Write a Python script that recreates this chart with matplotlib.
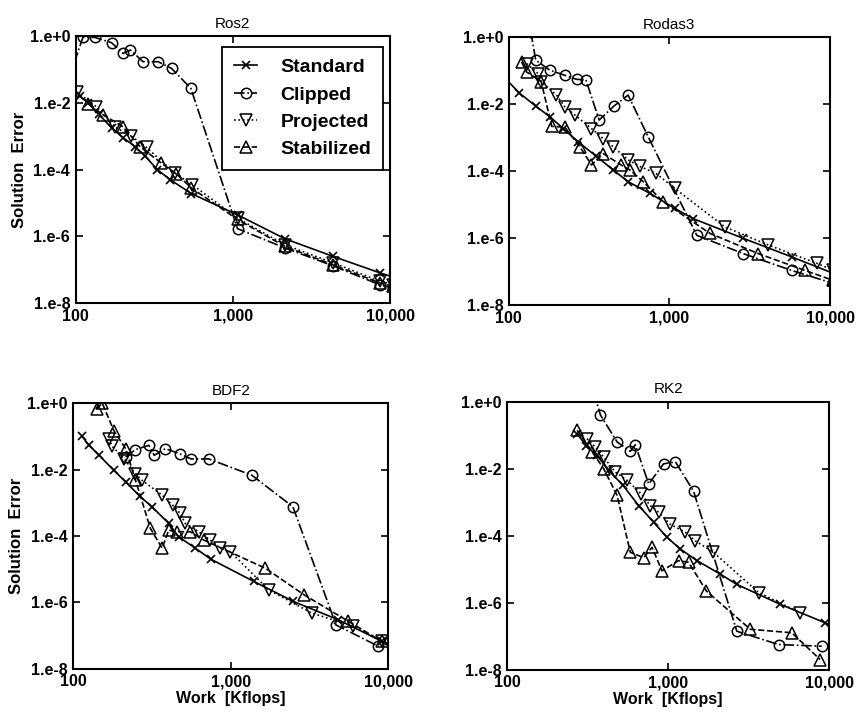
import numpy as np
import matplotlib
matplotlib.use('Agg')
import matplotlib.pyplot as plt
from matplotlib.ticker import FixedLocator, FuncFormatter, NullLocator

plt.rcParams['font.family'] = ['Liberation Sans', 'DejaVu Sans']

# ---------------------------------------------------------------------------
# Data: work [Kflops] vs. solution error
# ---------------------------------------------------------------------------
METHODS = ['Standard', 'Clipped', 'Projected', 'Stabilized']
TITLES = ['Ros2', 'Rodas3', 'BDF2', 'RK2']

# Ros2
ROS2_STD_W = [106, 120, 140, 169, 200, 238, 275, 330, 398, 545, 1070, 2140, 4350, 8660, 10500]
ROS2_STD_E = [1.6e-2, 1.0e-2, 4.5e-3, 1.8e-3, 9e-4, 4.9e-4, 2.6e-4, 1.0e-4, 5e-5, 1.9e-5,
              4.4e-6, 8.5e-7, 2.5e-7, 8e-8, 6e-8]
ROS2_CLP_W = [90, 111, 132, 169, 200, 223, 268, 334, 407, 540, 1070, 2140, 4350, 8660, 10500]
ROS2_CLP_E = [0.05, 0.91, 0.91, 0.63, 0.30, 0.38, 0.17, 0.17, 0.107, 0.027,
              1.7e-6, 4.5e-7, 1.3e-7, 3.5e-8, 2.8e-8]
ROS2_PRJ_W = [102, 135, 177, 226, 282, 427, 553, 1070, 2140, 4350, 8660, 10500]
ROS2_PRJ_E = [2.1e-2, 7.7e-3, 1.9e-3, 1.0e-3, 4.6e-4, 7.8e-5, 3.5e-5, 3.5e-6, 5.6e-7, 1.6e-7, 4.5e-8, 3.6e-8]
ROS2_STB_W = [120, 149, 200, 256, 351, 437, 545, 1070, 2140, 4350, 8660, 10500]
ROS2_STB_E = [9.3e-3, 4.4e-3, 1.9e-3, 4.9e-4, 1.55e-4, 7.4e-5, 2.8e-5, 3.2e-6, 5e-7, 1.4e-7, 4e-8, 3.2e-8]

# Rodas3
RODAS3_STD_W = [95, 116, 147, 180, 218, 270, 351, 447, 553, 757, 1080, 1400, 2880, 5760, 10800]
RODAS3_STD_E = [6e-2, 2.2e-2, 8.9e-3, 4.3e-3, 1.9e-3, 7.6e-4, 2.8e-4, 1.1e-4, 4.9e-5, 2.2e-5,
                7.8e-6, 3.9e-6, 1.0e-6, 2.8e-7, 8.5e-8]
RODAS3_CLP_W = [137, 147, 180, 223, 264, 302, 365, 451, 553, 738, 1480, 2880, 5760, 10500]
RODAS3_CLP_E = [1.5, 0.21, 0.105, 0.074, 0.056, 0.054, 3.4e-3, 8.9e-3, 1.9e-2, 1.07e-3,
                1.23e-6, 3.5e-7, 1.1e-7, 4.5e-8]
RODAS3_PRJ_W = [129, 152, 159, 198, 223, 258, 327, 387, 447, 553, 655, 824, 1080, 2210, 4130, 8260, 10500]
RODAS3_PRJ_E = [0.166, 0.083, 0.048, 0.019, 8.5e-3, 4.8e-3, 1.9e-3, 9.5e-4, 5.4e-4, 2.2e-4,
                1.4e-4, 8.7e-5, 3.1e-5, 2.2e-6, 6.3e-7, 1.8e-7, 1.1e-7]
RODAS3_STB_W = [120, 129, 159, 185, 223, 277, 327, 387, 500, 567, 687, 916, 1790, 3570, 6990, 10500]
RODAS3_STB_E = [0.186, 0.093, 0.048, 2.2e-3, 2.1e-3, 5.4e-4, 1.55e-4, 3.4e-4, 1.55e-4, 1.1e-4,
                4.9e-5, 1.23e-5, 1.4e-6, 3.5e-7, 1.1e-7, 5.5e-8]

# BDF2
BDF2_STD_W = [114, 126, 146, 181, 215, 264, 316, 404, 467, 596, 749, 1400, 2500, 4820, 9080, 10500]
BDF2_STD_E = [0.1, 5.4e-2, 2.7e-2, 9.5e-3, 4.3e-3, 1.6e-3, 7.6e-4, 2.4e-4, 9.5e-5, 4.3e-5,
              2.0e-5, 4.3e-6, 1.07e-6, 3.0e-7, 6.8e-8, 5.2e-8]
BDF2_CLP_W = [215, 248, 302, 327, 385, 474, 560, 724, 1360, 2480, 4660, 8650]
BDF2_CLP_E = [2.4e-2, 4.0e-2, 5.4e-2, 2.7e-2, 4.3e-2, 3.0e-2, 2.1e-2, 2.1e-2, 6.8e-3, 7.6e-4, 2.1e-7, 4.8e-8]
BDF2_PRJ_W = [168, 177, 211, 248, 273, 367, 428, 478, 514, 625, 741, 858, 993, 1740, 3270, 6000, 9080]
BDF2_PRJ_E = [8.5e-2, 5.0e-2, 2.1e-2, 7.6e-3, 4.8e-3, 1.7e-3, 8.5e-4, 4.8e-4, 2.4e-4, 1.35e-4,
              7.6e-5, 4.3e-5, 3.4e-5, 2.4e-6, 4.8e-7, 1.9e-7, 6.8e-8]
BDF2_STB_W = [141, 153, 181, 215, 248, 309, 367, 404, 455, 553, 673, 1660, 2920, 5580, 9080]
BDF2_STB_E = [0.68, 1.0, 0.15, 4.3e-2, 5.0e-3, 1.7e-4, 4.3e-5, 1.5e-4, 1.35e-4, 1.35e-4,
              7.6e-5, 1.07e-5, 1.7e-6, 2.7e-7, 6.8e-8]

# RK2
RK2_STD_W = [272, 310, 362, 427, 524, 656, 813, 984, 1190, 1510, 2110, 2670, 4970, 9440, 10500]
RK2_STD_E = [0.112, 4.8e-2, 2.5e-2, 8.9e-3, 3.2e-3, 7.9e-4, 2.5e-4, 8.9e-5, 4.0e-5, 1.8e-5,
             7.1e-6, 3.5e-6, 8.9e-7, 2.5e-7, 2.0e-7]
RK2_CLP_W = [345, 380, 482, 582, 625, 757, 937, 1110, 1440, 2670, 4850, 9000]
RK2_CLP_E = [2.0, 0.40, 0.063, 0.033, 0.052, 3.5e-3, 1.4e-2, 1.6e-2, 2.1e-3, 1.4e-7, 5.6e-8, 5.0e-8]
RK2_PRJ_W = [313, 353, 398, 470, 556, 678, 775, 873, 1030, 1280, 1470, 1910, 3650, 6610]
RK2_PRJ_E = [7.9e-2, 4.5e-2, 2.2e-2, 7.9e-3, 4.5e-3, 1.8e-3, 7.9e-4, 5.0e-4, 2.2e-4, 1.26e-4,
             7.1e-5, 3.2e-5, 2.0e-6, 5.0e-7]
RK2_STB_W = [272, 337, 398, 482, 582, 705, 794, 916, 1160, 1340, 1730, 3240, 5860, 8790]
RK2_STB_E = [0.141, 3.2e-2, 1.0e-2, 1.6e-3, 3.2e-5, 2.2e-5, 4.5e-5, 8.9e-6, 1.8e-5, 1.6e-5,
             2.2e-6, 1.6e-7, 1.26e-7, 2.0e-8]

PANELS = [
    [(ROS2_STD_W, ROS2_STD_E), (ROS2_CLP_W, ROS2_CLP_E), (ROS2_PRJ_W, ROS2_PRJ_E), (ROS2_STB_W, ROS2_STB_E)],
    [(RODAS3_STD_W, RODAS3_STD_E), (RODAS3_CLP_W, RODAS3_CLP_E), (RODAS3_PRJ_W, RODAS3_PRJ_E), (RODAS3_STB_W, RODAS3_STB_E)],
    [(BDF2_STD_W, BDF2_STD_E), (BDF2_CLP_W, BDF2_CLP_E), (BDF2_PRJ_W, BDF2_PRJ_E), (BDF2_STB_W, BDF2_STB_E)],
    [(RK2_STD_W, RK2_STD_E), (RK2_CLP_W, RK2_CLP_E), (RK2_PRJ_W, RK2_PRJ_E), (RK2_STB_W, RK2_STB_E)],
]

X_TICKS = [100, 1000, 10000]
Y_TICKS = [1e-8, 1e-6, 1e-4, 1e-2, 1e0]

STYLES = {
    'Standard':   dict(ls='-', marker='x', ms=6, mew=1.2),
    'Clipped':    dict(ls='-.', marker='o', ms=7.5, mfc='none', mew=1.1),
    'Projected':  dict(ls=':', marker='v', ms=8.5, mfc='none', mew=1.1),
    'Stabilized': dict(ls='--', marker='^', ms=8.5, mfc='none', mew=1.1),
}

# axes rectangles [left, bottom, width, height] in figure fractions
RECTS = [
    [0.088, 0.579, 0.365, 0.371],
    [0.591, 0.576, 0.373, 0.372],
    [0.085, 0.071, 0.366, 0.369],
    [0.589, 0.070, 0.374, 0.372],
]

fig = plt.figure(figsize=(8.61, 7.2), dpi=100)

for i, (title, series) in enumerate(zip(TITLES, PANELS)):
    ax = fig.add_axes(RECTS[i])
    for name, (w, e) in zip(METHODS, series):
        ax.plot(w, e, color='black', lw=1.2, label=name, **STYLES[name])
    ax.set_xscale('log')
    ax.set_yscale('log')
    ax.set_xlim(100, 10000)
    ax.set_ylim(1e-8, 1e0)
    ax.xaxis.set_major_locator(FixedLocator(X_TICKS))
    ax.yaxis.set_major_locator(FixedLocator(Y_TICKS))
    ax.xaxis.set_minor_locator(NullLocator())
    ax.yaxis.set_minor_locator(NullLocator())
    ax.xaxis.set_major_formatter(FuncFormatter(lambda v, p: '{:,}'.format(int(round(v)))))
    ax.yaxis.set_major_formatter(FuncFormatter(lambda v, p: '1.e%+d' % int(round(np.log10(v)))))
    ax.tick_params(direction='in', length=5, width=1.2, top=True, right=True,
                   labelsize=11.5, pad=4)
    for lab in ax.get_xticklabels() + ax.get_yticklabels():
        lab.set_fontweight('bold')
    for sp in ax.spines.values():
        sp.set_linewidth(1.5)
    ax.set_title(title, fontsize=11, pad=6)
    if i in (0, 2):
        ax.set_ylabel('Solution  Error', fontsize=12, fontweight='bold', labelpad=2)
    if i in (2, 3):
        ax.set_xlabel('Work  [Kflops]', fontsize=11.5, fontweight='bold', labelpad=1)
    if i == 0:
        leg = ax.legend(loc='upper right', bbox_to_anchor=(0.978, 0.959), borderaxespad=0,
                        fancybox=False, framealpha=1, edgecolor='black',
                        prop=dict(size=14, weight='bold'), handlelength=1.2,
                        handletextpad=1.2, labelspacing=0.5, borderpad=0.6)
        leg.get_frame().set_linewidth(1.3)

fig.savefig('out.png', dpi=100)
